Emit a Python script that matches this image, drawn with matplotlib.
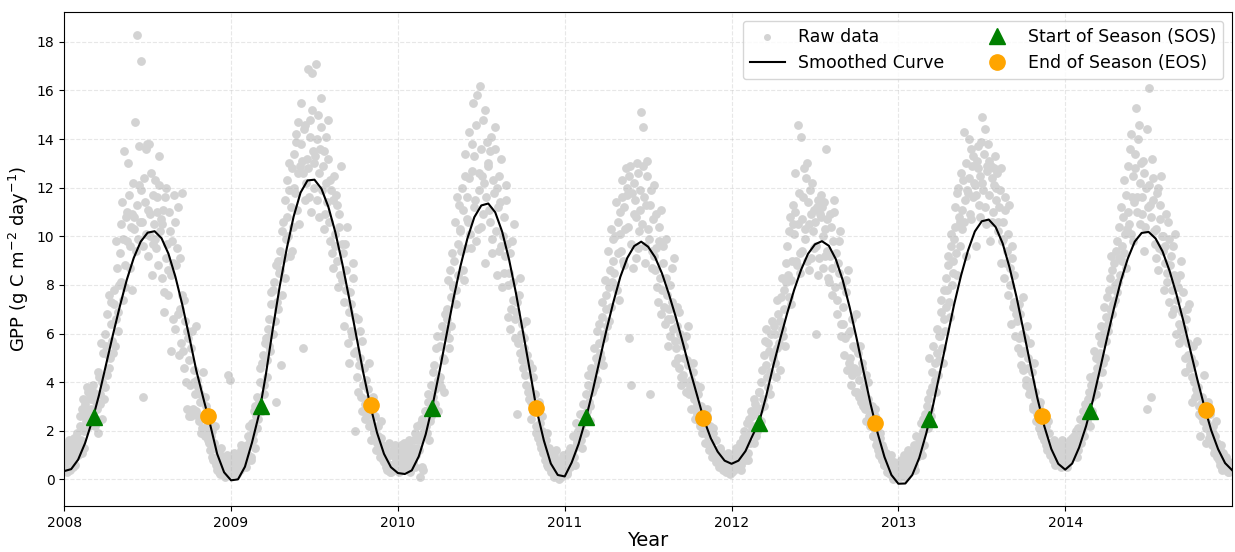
import numpy as np
import matplotlib
matplotlib.use("Agg")
import matplotlib.pyplot as plt

# smoothed GPP curve, read every half month (1/24 yr) from 2008.0 to 2015.0
curve = [
    0.34, 0.42, 0.81, 1.49, 2.39, 3.46, 4.71, 5.94, 7.12, 8.21, 9.11, 9.78,
    10.15, 10.21, 9.92, 9.28, 8.33, 7.17, 5.85, 4.48, 3.35, 2.25, 1.05, 0.29,
    -0.04, 0.00, 0.52, 1.50, 2.65, 4.30, 6.18, 7.94, 9.48, 10.81, 11.80, 12.30,
    12.33, 11.96, 11.21, 10.17, 8.88, 7.44, 5.92, 4.42, 3.08, 1.92, 1.05, 0.50,
    0.26, 0.22, 0.37, 0.94, 1.85, 3.06, 4.46, 5.96, 7.44, 8.77, 9.91, 10.79,
    11.27, 11.35, 10.99, 10.19, 9.04, 7.64, 6.06, 4.45, 2.80, 1.60, 0.65, 0.18,
    0.12, 0.69, 1.46, 2.45, 3.61, 4.88, 6.14, 7.29, 8.33, 9.11, 9.60, 9.78,
    9.57, 9.14, 8.47, 7.61, 6.66, 5.61, 4.52, 3.50, 2.48, 1.70, 1.14, 0.77,
    0.64, 0.77, 1.16, 1.79, 2.38, 3.45, 4.67, 5.78, 6.83, 7.79, 8.62, 9.28,
    9.67, 9.80, 9.61, 9.06, 8.19, 7.07, 5.79, 4.43, 3.10, 1.92, 0.92, 0.18,
    -0.18, -0.17, 0.18, 0.88, 1.88, 3.06, 4.43, 5.82, 7.17, 8.37, 9.40, 10.20,
    10.62, 10.69, 10.38, 9.71, 8.71, 7.50, 6.12, 4.71, 3.34, 2.18, 1.25, 0.64,
    0.40, 0.65, 1.31, 2.19, 3.28, 4.52, 5.79, 7.02, 8.16, 9.08, 9.78, 10.14,
    10.18, 9.91, 9.38, 8.59, 7.62, 6.51, 5.32, 4.12, 3.01, 2.02, 1.24, 0.67,
    0.38,
]

# raw daily GPP (about every 3 days), two interleaved lists per year
raw_2008 = [
    0.6, 1.1, 0.3, 1.5, 0.8, 1.2, 0.5, 1.7, 0.9, 1.3, 1.0, 2.2, 1.6, 2.9, 1.3,
    3.1, 2.4, 3.6, 2.8, 3.3, 2.7, 3.9, 2.2, 3.5, 1.9, 4.2, 3.1, 2.5, 5.2, 3.8,
    5.5, 4.3, 7.6, 5.0, 6.4, 5.2, 7.8, 6.6, 8.7, 6.1, 9.3, 10.5, 7.4, 13.5, 8.8,
    11.0, 13.0, 9.6, 10.4, 7.8, 10.8, 14.7, 18.3, 9.9, 12.1, 17.2, 10.6, 3.4, 11.4, 13.6,
    9.2, 13.8, 10.9, 8.4, 11.7, 12.3, 9.5, 11.0, 13.3, 10.2, 8.3, 11.1, 6.9, 12.0, 9.7,
    7.6, 10.2, 5.3, 8.9, 11.7, 6.2, 9.5, 11.2, 7.0, 5.6, 11.8, 4.6, 6.5, 2.9, 5.8,
    4.9, 2.6, 6.1, 4.0, 3.5, 2.8, 3.8, 2.4, 3.2, 2.1, 2.6, 1.8, 3.0, 2.2, 1.5,
    1.2, 2.0, 0.8, 1.5, 0.6, 0.4, 1.1, 0.2, 0.7, 0.3, 0.5, 0.1, 1.0, 4.3, 4.1,
]
raw_2008b = [
    1.3, 0.7, 0.9, 1.6, 0.4, 0.8, 1.4, 0.6, 1.1, 1.9, 1.5, 2.6, 1.1, 3.3, 2.0,
    2.7, 3.8, 2.2, 3.4, 2.9, 3.6, 2.5, 3.2, 2.9, 4.4, 3.5, 5.6, 4.0, 3.3, 6.0,
    6.8, 5.1, 4.6, 7.3, 5.7, 7.2, 5.5, 9.8, 6.9, 8.0, 8.1, 11.4, 9.9, 7.9, 10.8,
    9.8, 11.7, 8.7, 10.9, 12.2, 10.3, 9.4, 11.3, 13.7, 10.6, 11.9, 9.6, 12.4, 10.1, 13.8,
    11.1, 10.0, 12.6, 9.7, 10.5, 9.9, 11.6, 8.8, 12.1, 10.7, 10.5, 7.7, 11.6, 9.1, 8.6,
    11.0, 8.4, 9.8, 6.6, 10.6, 8.8, 6.8, 5.1, 9.1, 7.6, 5.3, 7.4, 4.0, 6.1, 2.6,
    3.9, 5.4, 2.9, 4.5, 6.3, 4.1, 2.6, 3.5, 1.9, 4.4, 1.9, 3.4, 2.7, 1.6, 2.4,
    1.8, 0.9, 1.3, 2.2, 0.7, 0.8, 0.3, 1.3, 0.5, 0.9, 0.2, 0.7, 0.4, 0.8, 0.3,
]
raw_2009 = [
    0.6, 0.2, 1.1, 0.4, 0.9, 0.3, 0.8, 1.4, 0.5, 1.0, 1.2, 0.7, 1.8, 2.2, 0.9,
    2.3, 1.6, 3.0, 2.6, 3.4, 3.2, 4.6, 2.8, 5.1, 3.9, 5.8, 4.2, 6.6, 5.3, 7.2,
    6.0, 8.1, 3.2, 7.3, 9.0, 8.6, 4.7, 10.2, 9.1, 11.5, 12.3, 10.0, 13.0, 11.2, 9.4,
    13.4, 11.8, 14.2, 12.6, 10.5, 15.5, 13.1, 5.4, 14.6, 12.2, 16.9, 11.6, 14.8, 16.7, 13.5,
    12.0, 17.1, 14.0, 10.8, 13.6, 15.7, 12.9, 10.3, 14.1, 11.4, 13.2, 9.8, 11.9, 8.7, 12.5,
    9.6, 11.3, 7.9, 10.4, 12.9, 8.2, 6.3, 9.7, 7.8, 5.6, 4.8, 7.2, 5.9, 8.3, 2.0,
    5.3, 3.6, 4.7, 6.1, 2.8, 3.9, 2.5, 4.1, 3.3, 2.2, 2.7, 1.6, 3.4, 2.0, 1.2,
    1.5, 2.2, 0.9, 1.7, 1.1, 0.7, 1.3, 0.4, 1.0, 0.6, 0.3, 1.0, 0.5, 1.4, 0.8,
]
raw_2009b = [
    0.3, 0.8, 0.5, 1.0, 0.2, 0.7, 0.4, 1.2, 0.6, 0.9, 0.5, 1.4, 1.0, 1.6, 0.8,
    1.9, 2.8, 1.3, 2.1, 2.5, 4.0, 3.0, 4.8, 3.5, 5.6, 4.9, 6.2, 5.5, 7.7, 6.0,
    7.8, 6.5, 8.8, 7.0, 8.5, 9.4, 7.6, 10.6, 8.3, 9.9, 10.8, 11.9, 9.2, 12.8, 10.4,
    12.0, 13.9, 11.1, 14.7, 12.9, 13.8, 12.6, 14.4, 11.5, 13.2, 12.8, 14.1, 11.0, 15.2, 13.0,
    13.3, 11.5, 15.0, 12.6, 14.5, 11.9, 13.5, 10.9, 12.2, 14.8, 10.6, 12.3, 9.3, 11.5, 10.1,
    11.7, 9.0, 10.9, 8.4, 9.7, 9.3, 7.3, 8.6, 10.4, 6.9, 7.7, 6.1, 8.9, 5.2, 6.7,
    4.2, 6.6, 5.0, 3.4, 5.7, 4.6, 3.1, 2.7, 3.7, 4.8, 2.3, 3.0, 1.9, 2.6, 1.7,
    1.8, 1.2, 2.4, 1.4, 0.8, 1.1, 0.5, 0.9, 1.5, 0.3, 0.6, 1.2, 0.4, 0.9, 0.5,
]
raw_2010 = [
    0.9, 0.3, 1.4, 0.6, 1.1, 0.5, 1.2, 0.8, 1.6, 0.4, 1.3, 0.7, 1.9, 1.0, 2.2,
    1.6, 0.1, 2.5, 0.4, 2.0, 2.8, 1.9, 3.5, 2.4, 3.9, 3.4, 4.7, 3.7, 5.9, 4.1,
    5.5, 3.8, 6.3, 4.9, 6.8, 6.6, 8.2, 5.4, 7.5, 9.3, 8.0, 10.6, 7.2, 9.7, 11.3,
    10.2, 12.0, 8.6, 13.4, 9.5, 11.6, 14.3, 10.1, 12.7, 15.5, 13.3, 9.8, 15.8, 11.9, 16.2,
    10.4, 14.8, 12.2, 8.9, 13.9, 12.9, 10.6, 14.1, 9.3, 11.8, 13.6, 8.4, 11.2, 12.5, 9.6,
    7.9, 10.8, 9.2, 12.1, 6.7, 8.5, 6.2, 9.8, 7.4, 5.8, 6.9, 2.7, 7.6, 5.2, 6.4,
    4.6, 5.8, 3.9, 5.1, 3.3, 3.7, 2.5, 4.2, 3.0, 1.9, 2.9, 1.7, 2.3, 1.3, 2.6,
    1.4, 0.8, 1.9, 0.5, 1.1, 0.3, 0.9, 0.1, 0.6, 1.2, 0.5, 0.0, 0.8, 0.3, 1.0,
]
raw_2010b = [
    0.6, 1.2, 0.4, 0.8, 1.5, 1.0, 0.6, 1.4, 0.3, 1.1, 0.9, 1.6, 0.5, 1.3, 1.8,
    1.2, 2.3, 0.5, 1.8, 2.8, 2.2, 3.2, 1.6, 2.6, 3.4, 4.4, 3.1, 5.4, 2.8, 4.0,
    4.2, 5.9, 5.0, 3.6, 6.1, 7.0, 5.8, 8.6, 6.3, 7.9, 9.0, 7.8, 11.6, 8.4, 10.3,
    9.4, 11.1, 8.2, 12.5, 10.7, 10.6, 12.4, 9.5, 13.8, 11.2, 11.5, 14.6, 10.3, 12.6, 13.6,
    12.5, 10.9, 15.2, 11.6, 13.0, 11.1, 13.5, 9.9, 12.3, 14.5, 10.2, 12.0, 9.4, 11.4, 13.2,
    10.0, 8.5, 11.5, 9.7, 8.0, 9.3, 7.0, 8.1, 10.5, 6.6, 7.3, 5.6, 8.3, 6.0, 4.9,
    5.4, 4.3, 6.5, 3.6, 4.8, 3.2, 4.6, 2.8, 3.5, 2.2, 2.2, 3.2, 1.5, 2.0, 1.1,
    1.0, 1.6, 0.6, 1.3, 0.9, 0.7, 0.4, 1.0, 0.2, 0.8, 0.2, 0.6, 0.1, 0.4, 0.7,
]
raw_2011 = [
    0.4, 1.0, 0.2, 0.8, 1.3, 1.1, 1.8, 0.9, 2.3, 1.5, 2.0, 2.7, 1.6, 3.1, 2.4,
    3.5, 2.8, 4.3, 3.0, 4.6, 4.2, 5.4, 3.9, 6.1, 4.8, 6.4, 5.0, 7.3, 5.8, 8.2,
    7.6, 9.4, 6.5, 10.3, 8.1, 9.9, 8.0, 11.4, 10.6, 7.4, 10.1, 12.3, 9.0, 11.2, 12.8,
    11.7, 5.8, 12.9, 3.9, 8.7, 12.2, 10.8, 13.0, 9.5, 11.1, 15.1, 14.5, 11.6, 8.9, 12.5,
    10.3, 3.5, 11.9, 9.4, 12.1, 8.6, 10.9, 7.3, 9.8, 6.8, 7.8, 9.6, 6.4, 8.3, 5.5,
    7.0, 5.9, 8.7, 6.2, 4.8, 5.4, 7.1, 4.6, 6.0, 3.9, 4.3, 5.5, 3.6, 4.9, 6.3,
    3.8, 2.9, 4.4, 3.3, 2.5, 2.7, 3.5, 2.2, 3.0, 1.9, 2.1, 1.5, 2.6, 1.8, 1.2,
    1.5, 0.9, 1.9, 1.2, 0.7, 1.0, 0.5, 1.3, 0.8, 0.4, 0.6, 0.3, 0.9, 0.5, 0.2,
]
raw_2011b = [
    0.6, 0.3, 1.1, 0.5, 0.9, 0.8, 1.3, 0.6, 1.6, 2.0, 1.7, 2.2, 1.3, 2.7, 1.9,
    2.6, 3.9, 3.2, 2.4, 3.6, 3.7, 4.5, 5.0, 4.1, 5.6, 5.2, 6.7, 4.7, 6.0, 7.0,
    6.3, 7.9, 8.6, 7.1, 9.0, 8.5, 10.0, 7.8, 9.3, 11.0, 9.4, 11.6, 8.8, 10.3, 12.0,
    10.4, 12.5, 9.7, 11.8, 10.9, 11.5, 9.1, 12.6, 10.2, 11.9, 10.5, 12.9, 9.6, 11.3, 13.1,
    9.9, 11.3, 8.7, 10.7, 9.2, 9.5, 7.9, 10.4, 8.3, 11.1, 8.9, 7.1, 9.9, 7.6, 6.6,
    8.0, 6.6, 7.3, 9.1, 5.7, 6.3, 5.0, 6.9, 4.2, 5.7, 5.0, 4.0, 5.9, 4.7, 3.5,
    4.1, 3.6, 4.8, 2.9, 3.9, 3.1, 2.4, 3.8, 2.8, 2.1, 2.4, 1.9, 2.9, 1.4, 2.2,
    1.3, 2.1, 1.0, 1.6, 1.2, 0.8, 1.2, 0.6, 1.0, 0.7, 0.8, 0.5, 1.1, 0.4, 0.7,
]
raw_2012 = [
    0.3, 1.0, 0.6, 1.3, 0.5, 0.9, 1.5, 0.4, 1.2, 2.0, 1.4, 2.3, 0.8, 1.9, 2.8,
    2.6, 1.5, 3.1, 2.0, 2.9, 3.6, 2.4, 4.5, 3.0, 5.7, 6.2, 3.8, 5.3, 4.4, 6.5,
    5.1, 6.0, 4.2, 7.4, 5.6, 6.5, 8.3, 5.9, 7.0, 8.9, 9.6, 7.5, 10.8, 8.2, 11.3,
    10.1, 12.6, 8.8, 14.6, 9.3, 14.1, 10.7, 12.8, 9.9, 13.0, 11.4, 8.6, 10.9, 12.2, 9.5,
    10.6, 6.0, 11.5, 9.1, 10.8, 11.2, 8.7, 10.3, 13.6, 9.4, 8.1, 10.9, 7.6, 9.8, 11.5,
    9.3, 6.8, 8.5, 10.2, 5.9, 6.4, 5.1, 7.7, 4.5, 8.6, 5.0, 3.9, 6.6, 4.6, 5.4,
    3.6, 5.2, 4.1, 3.2, 4.8, 3.8, 2.9, 4.3, 3.3, 2.6, 2.4, 3.0, 1.8, 2.6, 1.4,
    1.6, 1.0, 1.9, 0.8, 1.3, 0.6, 1.1, 0.3, 0.8, 0.2, 0.4, 0.0, 0.7, 0.2, 0.5,
]
raw_2012b = [
    0.7, 0.4, 1.1, 0.8, 0.5, 1.3, 0.6, 1.0, 1.7, 0.8, 1.7, 1.1, 2.5, 1.5, 2.1,
    2.2, 3.3, 1.8, 2.7, 3.6, 2.9, 4.0, 3.3, 5.1, 4.7, 4.2, 5.6, 3.5, 6.0, 5.0,
    6.3, 4.8, 5.4, 6.8, 4.5, 7.5, 6.2, 7.8, 5.5, 8.1, 8.4, 10.2, 7.2, 9.0, 10.5,
    11.0, 9.0, 10.5, 11.8, 8.5, 9.4, 11.6, 10.3, 12.4, 9.0, 10.5, 11.9, 9.1, 10.2, 11.1,
    9.6, 11.2, 8.4, 10.9, 11.7, 10.0, 11.4, 9.2, 10.7, 8.3, 9.2, 10.4, 8.7, 11.0, 7.9,
    7.4, 8.9, 9.8, 6.4, 8.0, 7.1, 5.8, 8.2, 6.0, 4.8, 6.1, 4.3, 5.5, 3.6, 6.8,
    4.4, 3.4, 5.5, 4.6, 3.0, 3.5, 2.4, 3.0, 4.0, 2.2, 2.7, 1.8, 2.1, 2.9, 1.6,
    1.2, 1.7, 0.9, 1.4, 0.6, 0.9, 0.5, 0.7, 0.3, 1.0, 0.3, 0.6, 0.1, 0.4, 0.2,
]
raw_2013 = [
    0.4, 0.1, 0.8, 0.3, 1.0, 0.6, 0.2, 1.2, 0.5, 0.9, 0.7, 1.4, 0.4, 1.8, 1.1,
    1.5, 2.3, 1.0, 2.0, 2.7, 2.4, 3.3, 5.0, 2.9, 3.8, 5.5, 4.1, 3.6, 6.2, 4.9,
    5.9, 7.4, 4.8, 6.6, 8.3, 7.8, 9.2, 6.7, 10.1, 8.5, 9.9, 11.2, 8.4, 12.0, 10.6,
    12.6, 10.3, 14.3, 11.5, 9.2, 11.8, 14.0, 10.7, 12.9, 13.3, 12.1, 9.6, 13.7, 11.3, 12.5,
    14.9, 11.9, 14.4, 10.5, 12.7, 13.1, 9.8, 12.4, 11.0, 12.8, 11.5, 12.6, 10.2, 11.9, 8.9,
    10.6, 8.3, 11.1, 9.4, 7.6, 8.0, 6.4, 9.1, 7.3, 5.9, 6.5, 5.4, 7.2, 4.7, 6.0,
    4.5, 5.8, 3.9, 5.0, 3.5, 3.7, 4.4, 2.9, 3.3, 2.4, 2.8, 2.1, 3.2, 1.8, 2.5,
    1.6, 2.2, 1.2, 1.9, 1.0, 1.3, 0.8, 1.6, 0.6, 1.1, 0.9, 1.4, 0.5, 1.2, 0.7,
]
raw_2013b = [
    0.2, 0.6, 0.3, 0.5, 0.1, 0.4, 0.8, 0.3, 0.7, 0.5, 1.0, 0.6, 1.3, 0.9, 1.5,
    1.2, 1.8, 2.5, 1.4, 2.1, 3.0, 2.1, 3.6, 2.6, 4.4, 3.7, 4.8, 5.2, 4.3, 5.9,
    6.9, 5.4, 7.8, 6.1, 7.1, 8.8, 7.3, 9.6, 8.0, 9.0, 10.4, 9.3, 11.8, 10.8, 9.6,
    11.1, 12.3, 10.6, 13.0, 11.9, 12.4, 10.9, 13.6, 11.6, 12.2, 11.7, 13.1, 12.8, 10.8, 13.9,
    12.2, 13.4, 11.2, 12.9, 13.8, 11.7, 12.9, 10.6, 12.1, 13.3, 12.0, 10.6, 11.2, 12.8, 9.8,
    9.9, 11.6, 8.9, 10.1, 11.3, 8.7, 9.6, 7.1, 8.4, 6.8, 7.0, 5.8, 6.8, 5.2, 7.5,
    5.3, 4.1, 6.3, 4.6, 5.6, 4.0, 3.0, 4.8, 3.6, 2.7, 2.4, 3.0, 1.9, 2.6, 2.2,
    1.9, 1.4, 2.4, 1.5, 1.2, 1.0, 1.5, 0.9, 1.2, 0.8, 1.1, 0.6, 1.6, 0.9, 1.3,
]
raw_2014 = [
    1.0, 0.5, 1.5, 0.8, 1.2, 1.7, 1.0, 1.4, 2.0, 1.2, 1.6, 2.5, 1.9, 2.8, 2.2,
    3.0, 2.4, 3.6, 4.2, 2.8, 4.0, 5.3, 3.5, 4.6, 5.9, 5.2, 6.3, 4.8, 7.1, 5.7,
    7.5, 6.1, 8.3, 9.2, 6.8, 8.9, 7.4, 9.8, 8.1, 10.4, 11.2, 9.0, 12.3, 10.1, 8.7,
    12.9, 10.5, 14.2, 11.6, 9.8, 13.4, 15.3, 11.0, 14.6, 12.2, 10.9, 13.1, 9.4, 12.0, 2.9,
    16.1, 11.3, 3.4, 12.4, 10.2, 9.1, 11.8, 8.6, 10.7, 12.5, 10.0, 7.8, 9.6, 8.5, 10.6,
    7.3, 9.2, 6.8, 8.4, 10.1, 6.0, 7.9, 5.6, 9.0, 6.9, 5.8, 4.4, 6.6, 5.1, 7.2,
    4.6, 3.2, 5.5, 4.0, 3.7, 3.5, 2.7, 1.8, 3.1, 2.4, 2.9, 1.5, 2.3, 3.2, 1.9,
    1.6, 2.2, 1.1, 1.8, 0.9, 1.0, 0.6, 1.4, 0.4, 0.9, 0.5, 0.9, 0.3, 0.7, 0.4,
]
raw_2014b = [
    1.3, 0.7, 1.1, 1.6, 0.9, 1.2, 1.8, 1.5, 0.9, 2.1, 2.0, 1.5, 2.4, 1.8, 3.1,
    2.6, 3.3, 2.2, 3.9, 3.4, 3.8, 4.3, 5.0, 3.9, 4.9, 5.6, 4.4, 6.0, 5.0, 6.7,
    6.4, 7.8, 7.0, 8.6, 7.2, 8.0, 9.4, 7.7, 9.1, 8.4, 9.6, 10.8, 9.3, 11.7, 10.3,
    11.0, 13.6, 10.1, 12.5, 11.4, 12.8, 11.6, 14.0, 10.5, 13.0, 11.6, 12.6, 10.4, 14.4, 11.2,
    12.1, 10.8, 13.2, 11.5, 9.7, 10.3, 12.0, 9.5, 11.3, 10.0, 9.4, 8.9, 10.9, 8.1, 9.9,
    8.8, 7.8, 9.6, 7.0, 8.2, 7.4, 6.4, 8.4, 6.2, 7.7, 6.2, 5.0, 7.0, 5.6, 4.7,
    5.0, 4.2, 4.8, 3.4, 5.7, 3.8, 3.0, 2.6, 3.4, 4.3, 2.5, 2.1, 3.0, 1.7, 2.7,
    1.4, 1.9, 1.2, 2.4, 1.5, 0.8, 1.2, 0.5, 1.1, 0.7, 0.4, 0.7, 0.3, 0.6, 0.5,
]
raw_years = [2008, 2009, 2010, 2011, 2012, 2013, 2014]
raw_a = [raw_2008, raw_2009, raw_2010, raw_2011, raw_2012, raw_2013, raw_2014]
raw_b = [raw_2008b, raw_2009b, raw_2010b, raw_2011b, raw_2012b, raw_2013b, raw_2014b]

# phenology markers (decimal year, GPP)
sos_t = [2008.176, 2009.180, 2010.205, 2011.130, 2012.164, 2013.186, 2014.150]
sos_v = [2.58, 3.00, 2.92, 2.58, 2.31, 2.50, 2.83]
eos_t = [2008.864, 2009.836, 2010.826, 2011.828, 2012.858, 2013.858, 2014.842]
eos_v = [2.60, 3.04, 2.92, 2.54, 2.33, 2.60, 2.86]

xa = [y + np.arange(len(v)) / len(v) for y, v in zip(raw_years, raw_a)]
xb = [y + (np.arange(len(v)) + 0.5) / len(v) for y, v in zip(raw_years, raw_b)]
raw_x = np.concatenate(xa + xb)
raw_y = np.concatenate(raw_a + raw_b)
curve_x = 2008 + np.arange(len(curve)) / 24

fig, ax = plt.subplots(figsize=(12.35, 5.52), dpi=100)
fig.subplots_adjust(left=0.052, right=0.9976, top=0.978, bottom=0.083)

ax.scatter(raw_x, raw_y, s=28, color='lightgray', label='Raw data', zorder=1)
ax.plot(curve_x, curve, color='black', lw=1.5, label='Smoothed Curve', zorder=2)
ax.plot(sos_t, sos_v, '^', color='green', markersize=11, label='Start of Season (SOS)', zorder=3)
ax.plot(eos_t, eos_v, 'o', color='orange', markersize=11, label='End of Season (EOS)', zorder=3)

ax.set_xlim(2008, 2015)
ax.set_xticks(range(2008, 2015))
ax.set_xticklabels([str(y) for y in range(2008, 2015)])
ax.set_yticks(range(0, 19, 2))
ax.set_xlabel('Year', fontsize=14, labelpad=1)
ax.set_ylabel('GPP (g C m$^{-2}$ day$^{-1}$)', fontsize=13)
ax.grid(True, linestyle='--', alpha=0.3)
leg = ax.legend(loc='upper right', ncol=2, fontsize=12.5)
leg.legend_handles[0].set_sizes([16])

fig.savefig('out.png')
